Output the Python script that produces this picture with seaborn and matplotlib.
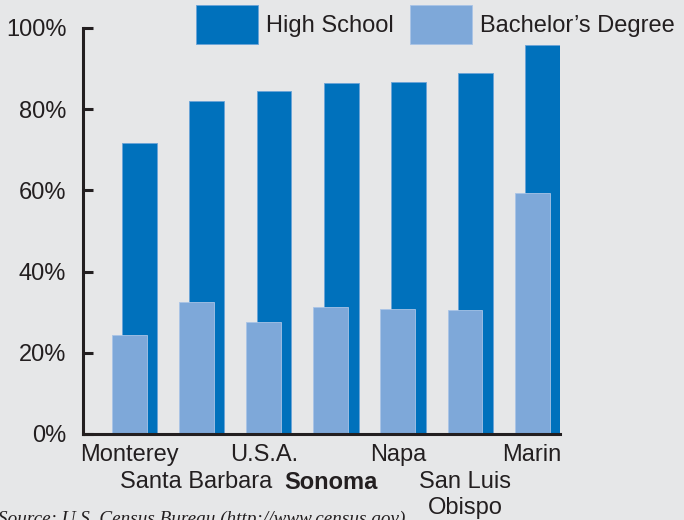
import numpy as np
import pandas as pd
import matplotlib.pyplot as plt
import seaborn as sns

# values (percent of adults)
regions = ["Monterey", "Santa Barbara", "U.S.A.", "Sonoma", "Napa", "San Luis\nObispo", "Marin"]
high_school = [71.6, 82.0, 84.6, 86.5, 86.8, 89.0, 95.8]
bachelors = [24.5, 32.4, 27.6, 31.3, 30.9, 30.5, 59.4]
y_ticks = [0, 20, 40, 60, 80, 100]

DARK = "#0071bc"
LIGHT = "#7ea8d9"
BG = "#e6e7e8"
INK = "#231f20"

sns.set_theme(style="white")
plt.rcParams["font.family"] = ["Liberation Sans", "DejaVu Sans"]

pos = np.arange(len(regions))
df = pd.DataFrame({
	"region": regions,
	"high_school": high_school,
	"bachelors": bachelors,
	"pos_light": pos,
	"pos_dark": pos + 0.154,
})

fig = plt.figure(figsize=(6.84, 5.2), dpi=100, facecolor=BG)
ax = fig.add_axes([83 / 684, 1 - 434 / 520, (560 - 83) / 684, (434 - 28) / 520])
ax.set_facecolor(BG)

sns.barplot(data=df, x="pos_dark", y="high_school", native_scale=True, width=0.52,
	color=DARK, saturation=1, edgecolor="#6aa3d8", linewidth=0.6, errorbar=None,
	label="High School", legend=False, ax=ax)
sns.barplot(data=df, x="pos_light", y="bachelors", native_scale=True, width=0.52,
	color=LIGHT, saturation=1, edgecolor="#a9c4e6", linewidth=0.6, errorbar=None,
	label="Bachelor\u2019s Degree", legend=False, ax=ax)

ax.set_xlim(-0.693, 6.416)
ax.set_ylim(0, 100)
ax.set_yticks(y_ticks)
ax.set_yticklabels([f"{t}%" for t in y_ticks])

ax.set_xticks(pos)
ax.set_xticklabels(regions, linespacing=1.27)

ax.set_xlabel("")
ax.set_ylabel("")
for s in ["top", "right"]:
	ax.spines[s].set_visible(False)
for s in ["left", "bottom"]:
	ax.spines[s].set_color(INK)
	ax.spines[s].set_linewidth(2.2)
ax.tick_params(axis="y", direction="in", length=7.5, width=2.2, color=INK,
	labelsize=17, labelcolor=INK, pad=12, left=True)
ax.tick_params(axis="x", length=0, labelsize=17, labelcolor=INK, pad=7)

# alternate the region labels onto two rows
for i, tick in enumerate(ax.xaxis.get_major_ticks()):
	if i % 2 == 1:
		tick.set_pad(26.4)
for i, t in enumerate(ax.get_xticklabels()):
	if regions[i] == "Sonoma":
		t.set_fontweight("bold")

handles, leg_labels = ax.get_legend_handles_labels()
if ax.get_legend() is not None:
	ax.get_legend().remove()
fig.legend(handles, leg_labels, loc="upper left", bbox_to_anchor=(196 / 684, 1 - 5 / 520),
	ncol=2, frameon=False, fontsize=17, handlelength=2.63, handleheight=2.17,
	handletextpad=0.34, columnspacing=0.68, borderpad=0, borderaxespad=0,
	labelcolor=INK)

fig.text(-0.003, 1 - 511 / 520, "Source: U.S. Census Bureau (http://www.census.gov)",
	family=["Liberation Serif", "DejaVu Serif"], style="italic", fontsize=13.8,
	color=INK, va="top", ha="left")

fig.savefig("out.png", dpi=100, facecolor=BG)
